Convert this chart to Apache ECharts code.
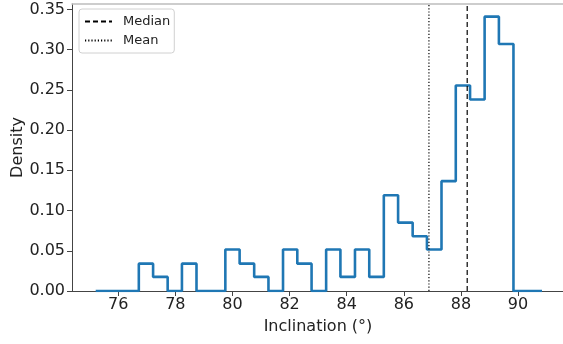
<!DOCTYPE html>
<html>
<head>
<meta charset="utf-8">
<script src="https://cdn.jsdelivr.net/npm/echarts@6/dist/echarts.min.js"></script>
<style>
  html, body { margin: 0; padding: 0; background: #fff; }
  #main { width: 563px; height: 344px; }
</style>
</head>
<body>
<div id="main"></div>
<script>
// histogram bins (edges) and density heights
var binEdges = [75.21, 75.71, 76.22, 76.72, 77.22, 77.73, 78.23, 78.74, 79.24, 79.75,
  80.25, 80.76, 81.26, 81.77, 82.27, 82.77, 83.28, 83.78, 84.29, 84.79,
  85.30, 85.80, 86.31, 86.81, 87.32, 87.82, 88.32, 88.83, 89.33, 89.84,
  90.34, 90.84];
var density = [0, 0, 0, 0.034, 0.0175, 0, 0.034, 0, 0, 0.0515,
  0.034, 0.0175, 0, 0.0515, 0.034, 0, 0.0515, 0.0175, 0.0515, 0.0175,
  0.119, 0.085, 0.068, 0.0515, 0.1365, 0.2555, 0.238, 0.341, 0.307, 0,
  0];
var medianVal = 88.22;
var meanVal = 86.88;
var yTicks = [0, 0.05, 0.10, 0.15, 0.20, 0.25, 0.30, 0.35];
var xTicks = [76, 78, 80, 82, 84, 86, 88, 90];

var myChart = echarts.init(document.getElementById('main'));

// step points: each bin's left edge with its height, plus the last edge
var stepData = [];
for (var i = 0; i < density.length; i++) {
  stepData.push([binEdges[i], density[i]]);
}
stepData.push([binEdges[binEdges.length - 1], density[density.length - 1]]);

var yTop = 0.3567;
var font = 'DejaVu Sans';

var option = {
  animation: false,
  textStyle: { fontFamily: font },
  grid: { left: 72, top: 4, width: 492, bottom: 53, outerBoundsMode: 'none', containLabel: false },
  legend: {
    data: ['Median', 'Mean'],
    orient: 'vertical',
    left: 79, top: 9,
    padding: [6, 4, 6, 5],
    itemWidth: 27, itemHeight: 14, itemGap: 6,
    borderColor: '#d0d0d0', borderWidth: 1, borderRadius: 3,
    itemStyle: { color: 'transparent', borderWidth: 0, opacity: 0 },
    textStyle: { fontSize: 13, color: '#222', fontFamily: font, padding: [0, 0, 0, 6] }
  },
  xAxis: [{
    type: 'value',
    min: 74.38, max: 91.61,
    interval: 2,
    axisLine: { show: true, lineStyle: { color: '#444', width: 1 } },
    axisTick: { show: true, length: 5, lineStyle: { color: '#444' }, customValues: xTicks },
    axisLabel: { fontSize: 16, color: '#222', margin: 6, customValues: xTicks },
    splitLine: { show: false },
    name: 'Inclination (°)',
    nameLocation: 'middle',
    nameGap: 28,
    nameMoveOverlap: false,
    nameTextStyle: { fontSize: 16, color: '#222' }
  }, {
    type: 'value',
    position: 'top',
    min: 74.38, max: 91.61,
    axisLine: { show: true, lineStyle: { color: '#bdbdbd', width: 1.5 } },
    axisTick: { show: false },
    axisLabel: { show: false },
    splitLine: { show: false }
  }],
  yAxis: {
    type: 'value',
    min: 0, max: yTop,
    axisLine: { show: true, lineStyle: { color: '#444', width: 1 } },
    axisTick: { show: true, length: 5, lineStyle: { color: '#444' }, customValues: yTicks },
    axisLabel: {
      fontSize: 16, color: '#222', margin: 7, customValues: yTicks,
      formatter: function (v) { return v.toFixed(2); }
    },
    splitLine: { show: false },
    name: 'Density',
    nameLocation: 'middle',
    nameGap: 46,
    nameMoveOverlap: false,
    nameTextStyle: { fontSize: 16, color: '#222' }
  },
  series: [{
    name: 'hist',
    type: 'line',
    step: 'end',
    data: stepData,
    symbol: 'none',
    lineStyle: { color: '#1f77b4', width: 2.6 }
  }, {
    name: 'Median',
    type: 'line',
    data: [[medianVal, 0], [medianVal, yTop]],
    symbol: 'none',
    color: '#000',
    lineStyle: { color: '#000', width: 1.2, type: [5, 3] }
  }, {
    name: 'Mean',
    type: 'line',
    data: [[meanVal, 0], [meanVal, yTop]],
    symbol: 'none',
    color: '#000',
    lineStyle: { color: '#000', width: 1.2, type: [1.2, 2] }
  }]
};

myChart.setOption(option);
window.onresize = function () {
  myChart.resize();
};
</script>
</body>
</html>
